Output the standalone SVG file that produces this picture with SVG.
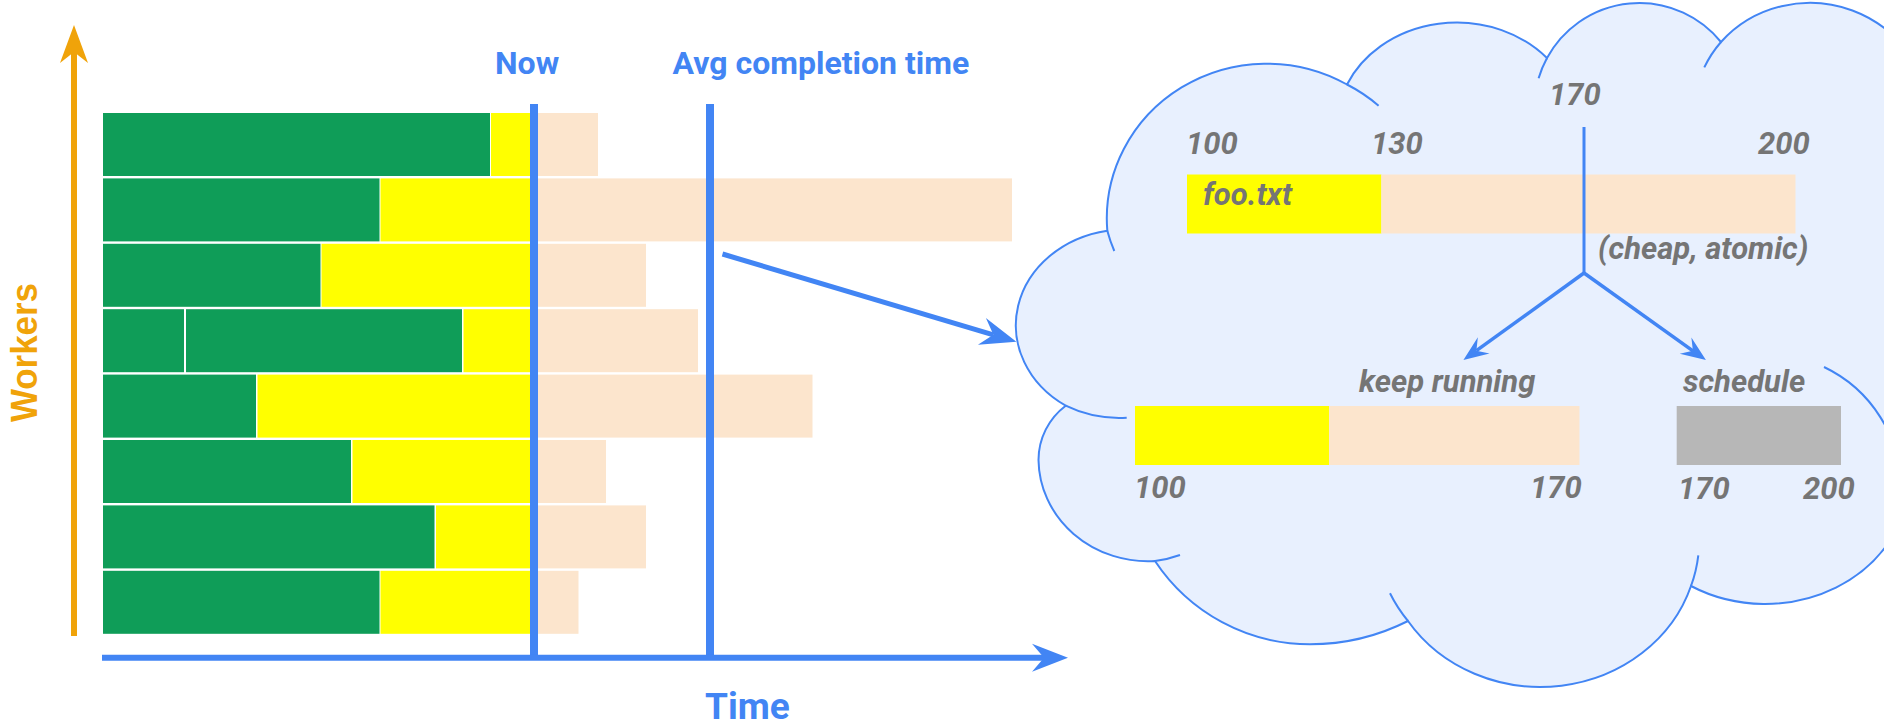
<svg xmlns="http://www.w3.org/2000/svg" width="1884" height="725" viewBox="0 0 1884 725">
<style>
.g{fill:#0F9D58}
.y{fill:#FFFF00}
.p{fill:#FCE5CD}
.gr{fill:#B7B7B7}
.blue{font-family:Roboto,"Liberation Sans",sans-serif;font-weight:700;fill:#4285F4}
.lbl{font-family:Roboto,"Liberation Sans",sans-serif;font-weight:700;font-style:italic;fill:#757575;font-size:31px}
.cl{fill:none;stroke:#4285F4;stroke-width:2}
.bl{fill:none;stroke:#4285F4}
</style>
<defs>
<marker id="arrBlue" markerUnits="userSpaceOnUse" viewBox="-1 -15 38 30" markerWidth="38" markerHeight="30" refX="12" refY="0" orient="auto"><path d="M0,-14 L36,0 L0,14 L12,0 Z" fill="#4285F4"/></marker>
<marker id="arrOrange" markerUnits="userSpaceOnUse" viewBox="-1 -15 40 30" markerWidth="40" markerHeight="30" refX="11" refY="0" orient="auto"><path d="M0,-14 L38,0 L0,14 L11,0 Z" fill="#F0A30A"/></marker>
<marker id="arrSmall" markerUnits="userSpaceOnUse" viewBox="-1 -11 27 22" markerWidth="27" markerHeight="22" refX="9" refY="0" orient="auto"><path d="M0,-10 L25,0 L0,10 L9,0 Z" fill="#4285F4"/></marker>
</defs>
<rect width="1884" height="725" fill="#FFFFFF"/>

<g id="workers-axis">
<text transform="translate(37,352.5) rotate(-90)" text-anchor="middle" font-family="'Liberation Sans',Arial,sans-serif" font-weight="700" font-size="37" fill="#F0A30A" textLength="139" lengthAdjust="spacingAndGlyphs">Workers</text>
</g>

<g id="row1"><rect class="g" x="103" y="113" width="387" height="63"/><rect class="y" x="491" y="113" width="43" height="63"/><rect class="p" x="534" y="113" width="64" height="63"/></g>
<g id="row2"><rect class="g" x="103" y="178.4" width="276.5" height="63"/><rect class="y" x="380.5" y="178.4" width="153.5" height="63"/><rect class="p" x="534" y="178.4" width="478" height="63"/></g>
<g id="row3"><rect class="g" x="103" y="243.8" width="217.5" height="63"/><rect class="y" x="321.5" y="243.8" width="212.5" height="63"/><rect class="p" x="534" y="243.8" width="112" height="63"/></g>
<g id="row4"><rect class="g" x="103" y="309.2" width="81" height="63"/><rect class="g" x="186" y="309.2" width="276" height="63"/><rect class="y" x="463.5" y="309.2" width="70.5" height="63"/><rect class="p" x="534" y="309.2" width="164" height="63"/></g>
<g id="row5"><rect class="g" x="103" y="374.6" width="153" height="63"/><rect class="y" x="257.5" y="374.6" width="276.5" height="63"/><rect class="p" x="534" y="374.6" width="278.5" height="63"/></g>
<g id="row6"><rect class="g" x="103" y="440" width="248" height="63"/><rect class="y" x="352.5" y="440" width="181.5" height="63"/><rect class="p" x="534" y="440" width="72" height="63"/></g>
<g id="row7"><rect class="g" x="103" y="505.4" width="331.5" height="63"/><rect class="y" x="436" y="505.4" width="98" height="63"/><rect class="p" x="534" y="505.4" width="112" height="63"/></g>
<g id="row8"><rect class="g" x="103" y="570.8" width="276.5" height="63"/><rect class="y" x="380.5" y="570.8" width="153.5" height="63"/><rect class="p" x="534" y="570.8" width="44.5" height="63"/></g>

<g id="now-marker">
<line x1="534" y1="104" x2="534" y2="658" stroke="#4285F4" stroke-width="8"/>
<text class="blue" x="495" y="74" font-size="32">Now</text>
</g>
<g id="avg-marker">
<line x1="710" y1="104" x2="710" y2="658" stroke="#4285F4" stroke-width="8"/>
<text class="blue" x="672.5" y="74" font-size="32">Avg completion time</text>
</g>
<g id="time-label">
<text class="blue" x="705" y="719" font-size="37">Time</text>
</g>

<g id="cloud">
<path d="M1107.3,230.7 A160 155 0 0 1 1347,84.5 A120 104 0 0 1 1547,58 A105 105 0 0 1 1721,42 A118 114 0 0 1 1928,119 L1928,478 L1909,478 A144 126 0 0 1 1691,586 A158 145 0 0 1 1408,621 A218 218 0 0 1 1310,644.3 A186 186 0 0 1 1155,561 A109.5 102.5 0 0 1 1038.5,460 A68 68 0 0 1 1065.7,405.7 A110 96 0 0 1 1107.3,230.7 Z" fill="#E8F0FE" stroke="#4285F4" stroke-width="2"/>
<path class="cl" d="M1126.7,417.7 A110 96 0 0 1 1065.7,405.7"/>
<path class="cl" d="M1114.3,251 A160 155 0 0 1 1107.3,230.7"/>
<path class="cl" d="M1347,84.5 A160 155 0 0 1 1378.6,105.7"/>
<path class="cl" d="M1538.6,78.3 A105 105 0 0 1 1547,58"/>
<path class="cl" d="M1704.3,67.4 A118 114 0 0 1 1721,42"/>
<path class="cl" d="M1824,367 A135 135 0 0 1 1901,489"/>
<path class="cl" d="M1698.3,555.3 A158 145 0 0 1 1691,586"/>
<path class="cl" d="M1408,621 A158 145 0 0 1 1390,593.3"/>
<path class="cl" d="M1180,555 A109.5 102.5 0 0 1 1155,561"/>
</g>

<g id="file-bar">
<rect class="y" x="1187" y="174.5" width="194.4" height="59"/>
<rect class="p" x="1381.4" y="174.5" width="414.1" height="59"/>
<text class="lbl" x="1203" y="205">foo.txt</text>
<text class="lbl" x="1186" y="154">100</text>
<text class="lbl" x="1371" y="154">130</text>
<text class="lbl" x="1549" y="105">170</text>
<text class="lbl" x="1758" y="153.5">200</text>
<text class="lbl" x="1598" y="259">(cheap, atomic)</text>
</g>

<g id="keep-running">
<text class="lbl" x="1359" y="392" font-size="32">keep running</text>
<rect class="y" x="1135" y="406" width="194" height="59"/>
<rect class="p" x="1329" y="406" width="250.5" height="59"/>
<text class="lbl" x="1134" y="498">100</text>
<text class="lbl" x="1530" y="498">170</text>
</g>

<g id="schedule">
<text class="lbl" x="1683" y="392" font-size="32">schedule</text>
<rect class="gr" x="1676.7" y="406" width="164.3" height="59"/>
<text class="lbl" x="1678" y="499">170</text>
<text class="lbl" x="1803" y="499">200</text>
</g>

<g id="connectors">
<line x1="74" y1="636" x2="74" y2="52" stroke="#F0A30A" stroke-width="6" marker-end="url(#arrOrange)"/>
<line x1="102" y1="657.7" x2="1044" y2="657.7" class="bl" stroke-width="6" marker-end="url(#arrBlue)"/>
<line x1="722.5" y1="254" x2="993.4" y2="334.8" class="bl" stroke-width="5" marker-end="url(#arrBlue)"/>
<line x1="1584" y1="127" x2="1584" y2="274" class="bl" stroke-width="3"/>
<path d="M1584,273 L1476.4,350.7" class="bl" stroke-width="3.5" marker-end="url(#arrSmall)"/>
<path d="M1584,273 L1692.9,350.8" class="bl" stroke-width="3.5" marker-end="url(#arrSmall)"/>
</g>
</svg>
